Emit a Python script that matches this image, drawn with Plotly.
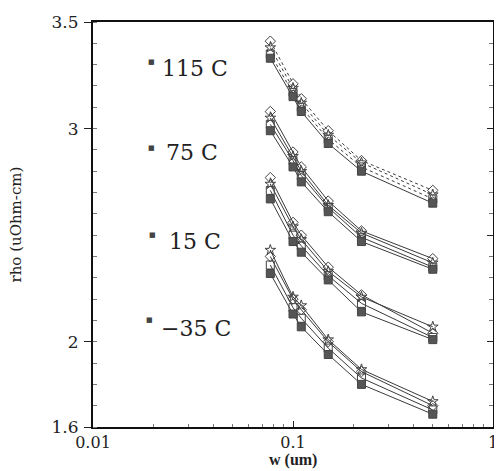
import plotly.graph_objects as go

# widths (um)
w = [0.077, 0.1, 0.11, 0.15, 0.22, 0.5]

# 115 C
rho_115_diamond = [3.41, 3.21, 3.14, 2.99, 2.85, 2.71]
rho_115_star = [3.38, 3.19, 3.12, 2.97, 2.84, 2.69]
rho_115_square = [3.35, 3.17, 3.10, 2.95, 2.82, 2.67]
rho_115_filled = [3.33, 3.15, 3.08, 2.93, 2.80, 2.65]
# 75 C
rho_75_diamond = [3.08, 2.89, 2.82, 2.66, 2.52, 2.39]
rho_75_star = [3.05, 2.87, 2.80, 2.64, 2.51, 2.37]
rho_75_square = [3.02, 2.85, 2.78, 2.63, 2.49, 2.35]
rho_75_filled = [2.99, 2.82, 2.75, 2.61, 2.47, 2.34]
# 15 C
rho_15_diamond = [2.77, 2.56, 2.50, 2.35, 2.22, 2.04]
rho_15_star = [2.74, 2.54, 2.48, 2.33, 2.21, 2.07]
rho_15_square = [2.71, 2.50, 2.45, 2.31, 2.18, 2.02]
rho_15_filled = [2.67, 2.47, 2.42, 2.29, 2.14, 2.01]
# -35 C
rho_m35_diamond = [2.40, 2.20, 2.15, 2.00, 1.86, 1.70]
rho_m35_star = [2.43, 2.21, 2.17, 2.01, 1.87, 1.72]
rho_m35_square = [2.36, 2.16, 2.11, 1.97, 1.83, 1.68]
rho_m35_filled = [2.32, 2.13, 2.07, 1.94, 1.80, 1.66]

temp_labels = ["115 C", "75 C", "15 C", "\u221235 C"]
y_tickvals = [1.6, 2, 3, 3.5]
y_ticktext = ["1.6", "2", "3", "3.5"]
x_tickvals = [0.01, 0.1, 1]
x_ticktext = ["0.01", "0.1", "1"]
x_minor = [0.02, 0.03, 0.04, 0.05, 0.06, 0.07, 0.08, 0.09,
           0.2, 0.3, 0.4, 0.5, 0.6, 0.7, 0.8, 0.9]

groups = [
    (rho_115_diamond, rho_115_star, rho_115_square, rho_115_filled, "dot"),
    (rho_75_diamond, rho_75_star, rho_75_square, rho_75_filled, "solid"),
    (rho_15_diamond, rho_15_star, rho_15_square, rho_15_filled, "solid"),
    (rho_m35_diamond, rho_m35_star, rho_m35_square, rho_m35_filled, "solid"),
]

styles = [
    dict(symbol="diamond-open", color="#444"),
    dict(symbol="star-open", color="#444"),
    dict(symbol="square-open", color="#444"),
    dict(symbol="square", color="#555"),
]

fig = go.Figure()
for g in groups:
    dash = g[4]
    for i in range(4):
        st = styles[i]
        fig.add_trace(go.Scatter(
            x=w, y=g[i], mode="lines+markers",
            line=dict(color="#3a3a3a", width=1, dash=dash if i != 3 else "solid"),
            marker=dict(symbol=st["symbol"], size=8, color=st["color"],
                        line=dict(color="#444", width=1)),
            showlegend=False, hoverinfo="skip",
        ))

# dummy trace for right-side axis
fig.add_trace(go.Scatter(x=[0.01], y=[1.6], yaxis="y2", mode="markers",
                         marker=dict(opacity=0), showlegend=False, hoverinfo="skip"))

serif = "DejaVu Serif"
# the page body adds an 8px offset, so the figure is 8px smaller and shifted
fig.update_layout(
    width=494, height=463,
    margin=dict(l=85, r=4, t=7, b=44),
    paper_bgcolor="white", plot_bgcolor="white",
    font=dict(family=serif, color="#222"),
    xaxis=dict(
        type="log", range=[-2, 0], tickvals=x_tickvals, ticktext=x_ticktext,
        ticks="inside", ticklen=6, tickcolor="#222",
        showline=True, linecolor="#111", linewidth=2, mirror=True,
        showgrid=False, zeroline=False,
        tickfont=dict(family=serif, size=16),
        ticklabeloverflow="allow", ticklabelstandoff=0,
        minor=dict(tickvals=x_minor, ticks="inside", ticklen=3,
                   tickcolor="#777", showgrid=False),
    ),
    yaxis=dict(
        range=[1.6, 3.5], tickvals=y_tickvals, ticktext=y_ticktext,
        ticks="outside", ticklen=7, tickcolor="#222",
        showline=True, linecolor="#111", linewidth=2, mirror=True,
        showgrid=False, zeroline=False,
        tickfont=dict(family=serif, size=17),
        ticklabelstandoff=2, ticklabeloverflow="allow",
        minor=dict(tickmode="linear", tick0=1.6, dtick=0.1, ticks="inside",
                   ticklen=4, tickcolor="#777", showgrid=False),
    ),
    yaxis2=dict(
        overlaying="y", side="right", range=[1.6, 3.5],
        tickvals=[2, 2.5, 3], showticklabels=False,
        ticks="inside", ticklen=6, tickcolor="#222",
        showline=False, showgrid=False, zeroline=False,
        minor=dict(tickmode="linear", tick0=1.6, dtick=0.1, ticks="inside",
                   ticklen=4, tickcolor="#777", showgrid=False),
    ),
)

# axis titles
fig.add_annotation(x=0.5, y=-0.082, xref="paper", yref="paper", text="<b>w (um)</b>",
                   showarrow=False, xanchor="center", yanchor="middle",
                   font=dict(family="Liberation Serif", size=16, color="#222"))
fig.add_annotation(x=-0.195, y=0.5, xref="paper", yref="paper", text="rho (uOhm-cm)",
                   showarrow=False, xanchor="center", yanchor="middle", textangle=-90,
                   font=dict(family=serif, size=15, color="#222"))

label_pos = [(0.886, 0.168), (0.677, 0.178), (0.459, 0.185), (0.243, 0.165)]
marker_pos = [(0.146, 0.900), (0.146, 0.690), (0.148, 0.473), (0.141, 0.265)]
for (py, px), (mx, my), txt in zip(label_pos, marker_pos, temp_labels):
    fig.add_annotation(x=px, y=py, xref="paper", yref="paper", text=txt,
                       showarrow=False, xanchor="left", yanchor="middle",
                       font=dict(family=serif, size=22, color="#222"))
    fig.add_annotation(x=mx, y=my, xref="paper", yref="paper", text="\u25a0",
                       showarrow=False, xanchor="center", yanchor="middle",
                       font=dict(family="DejaVu Sans", size=7, color="#444"))

fig.write_html("out.html")
